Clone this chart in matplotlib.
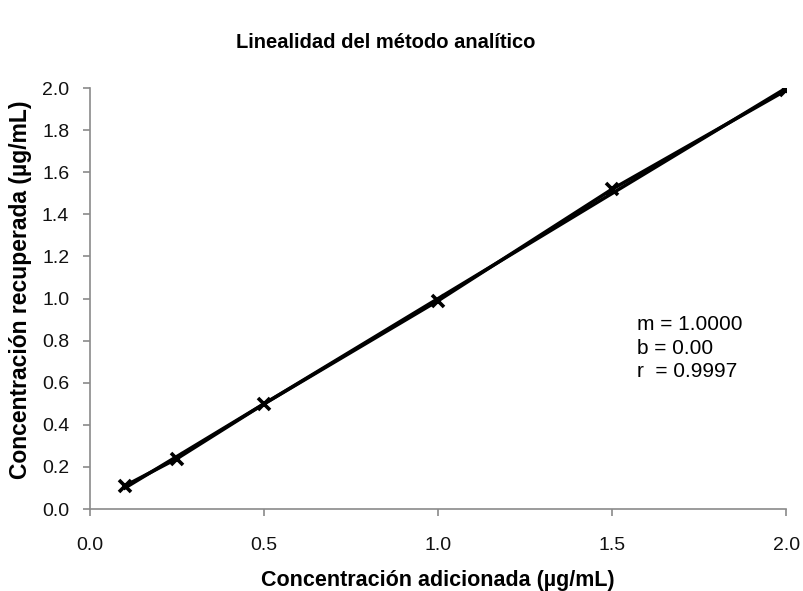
import numpy as np
import matplotlib.pyplot as plt

plt.rcParams['font.family'] = ['Liberation Sans', 'DejaVu Sans']

# concentraciones adicionadas vs recuperadas (ug/mL)
x_adic = [0.10, 0.25, 0.50, 1.00, 1.50, 2.00]
y_recup = [0.11, 0.24, 0.50, 0.99, 1.52, 1.99]

# parametros de la regresion
m = 1.0000
b = 0.00
r = 0.9997

fig = plt.figure(figsize=(8.04, 5.91), dpi=100)
ax = fig.add_axes([0.112, 0.1387, 0.866, 0.7123])

xr = np.array([x_adic[0], x_adic[-1]])
ax.plot(xr, m * xr + b, color='black', lw=2.5, zorder=2)
ax.plot(x_adic, y_recup, color='black', lw=2.5, marker='x', ms=9, mew=2.6, zorder=3)

ax.set_xlim(0, 2.0)
ax.set_ylim(0, 2.0)
ax.set_xticks(np.arange(0, 2.01, 0.5))
ax.set_yticks(np.arange(0, 2.01, 0.2))
ax.xaxis.set_major_formatter(plt.FormatStrFormatter('%.1f'))
ax.yaxis.set_major_formatter(plt.FormatStrFormatter('%.1f'))

for s in ['top', 'right']:
    ax.spines[s].set_visible(False)
for s in ['left', 'bottom']:
    ax.spines[s].set_color('#8a8a8a')
    ax.spines[s].set_linewidth(1.2)
ax.tick_params(direction='out', length=5, width=1.2, color='#8a8a8a',
               labelsize=14, labelcolor='#111111')
ax.tick_params(axis='x', pad=15)
ax.tick_params(axis='y', pad=10)

fig.text(0.544, 0.008, 'Concentración adicionada (µg/mL)', ha='center', va='baseline',
         fontsize=15.5, fontweight='bold')
fig.text(0.026, 0.509, 'Concentración recuperada (µg/mL)', ha='center', va='center',
         rotation=90, fontsize=16.5, fontweight='bold')
fig.text(0.48, 0.928, 'Linealidad del método analítico', ha='center', va='center',
         fontsize=14.5, fontweight='bold')

ax.text(0.785, 0.382, f'm = {m:.4f}\nb = {b:.2f}\nr  = {r:.4f}', transform=ax.transAxes,
        fontsize=15, va='center', ha='left', linespacing=1.3)

fig.savefig('out.png', dpi=100)
